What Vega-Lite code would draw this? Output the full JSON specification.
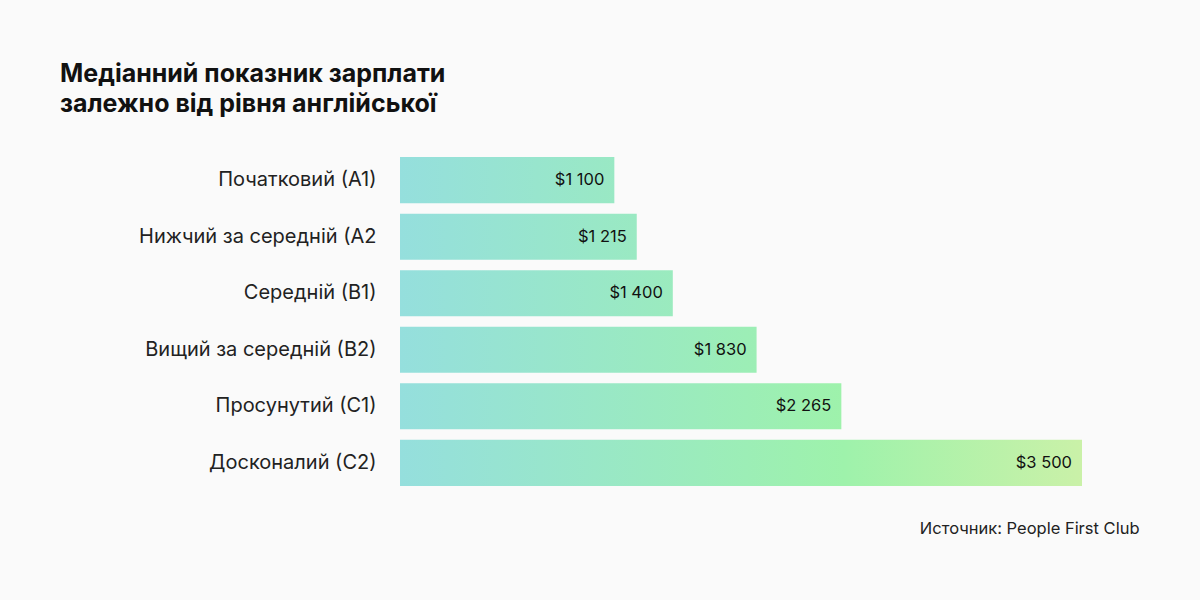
{
  "$schema": "https://vega.github.io/schema/vega-lite/v6.json",
  "autosize": "none",
  "width": 682,
  "height": 339,
  "padding": {"left": 400, "top": 152, "right": 118, "bottom": 109},
  "background": "#fafafa",
  "title": {
    "text": ["Медіанний показник зарплати", "залежно від рівня англійської"],
    "anchor": "start",
    "frame": "group",
    "dx": -340,
    "offset": 35,
    "fontSize": 25,
    "fontWeight": "bold",
    "font": "Inter",
    "color": "#111111",
    "lineHeight": 30
  },
  "data": {
    "values": [
      {"level": "Початковий (А1)", "salary": 1100},
      {"level": "Нижчий за середній (А2", "salary": 1215},
      {"level": "Середній (В1)", "salary": 1400},
      {"level": "Вищий за середній (В2)", "salary": 1830},
      {"level": "Просунутий (С1)", "salary": 2265},
      {"level": "Досконалий (С2)", "salary": 3500}
    ]
  },
  "encoding": {
    "y": {
      "field": "level",
      "type": "nominal",
      "sort": null,
      "scale": {"paddingInner": 0.185, "paddingOuter": 0.09},
      "axis": {
        "title": null,
        "domain": false,
        "ticks": false,
        "labelPadding": 24,
        "labelFontSize": 20,
        "labelFont": "Inter",
        "labelColor": "#222222",
        "labelLimit": 400
      }
    },
    "x": {
      "field": "salary",
      "type": "quantitative",
      "scale": {"domain": [0, 3500], "nice": false},
      "axis": {
        "domain": false,
        "ticks": false,
        "labels": false,
        "grid": false,
        "title": "Источник: People First Club",
        "titleFont": "Inter",
        "titleFontSize": 16.5,
        "titleFontWeight": "normal",
        "titleColor": "#222222",
        "titleAlign": "right",
        "titleAnchor": "end",
        "titleX": 739,
        "titleY": 29
      }
    }
  },
  "layer": [
    {
      "mark": {"type": "bar"},
      "encoding": {
        "color": {
          "condition": [
            {"test": "datum.salary == 1100", "value": {"gradient": "linear", "x1": 0, "y1": 0, "x2": 3.09, "y2": 0, "stops": [{"offset": 0, "color": "#95dfdd"}, {"offset": 0.65, "color": "#9ef2ab"}, {"offset": 1, "color": "#caf1a8"}]}},
            {"test": "datum.salary == 1215", "value": {"gradient": "linear", "x1": 0, "y1": 0, "x2": 2.88, "y2": 0, "stops": [{"offset": 0, "color": "#95dfdd"}, {"offset": 0.65, "color": "#9ef2ab"}, {"offset": 1, "color": "#caf1a8"}]}},
            {"test": "datum.salary == 1400", "value": {"gradient": "linear", "x1": 0, "y1": 0, "x2": 2.5, "y2": 0, "stops": [{"offset": 0, "color": "#95dfdd"}, {"offset": 0.65, "color": "#9ef2ab"}, {"offset": 1, "color": "#caf1a8"}]}},
            {"test": "datum.salary == 1830", "value": {"gradient": "linear", "x1": 0, "y1": 0, "x2": 1.913, "y2": 0, "stops": [{"offset": 0, "color": "#95dfdd"}, {"offset": 0.65, "color": "#9ef2ab"}, {"offset": 1, "color": "#caf1a8"}]}},
            {"test": "datum.salary == 2265", "value": {"gradient": "linear", "x1": 0, "y1": 0, "x2": 1.545, "y2": 0, "stops": [{"offset": 0, "color": "#95dfdd"}, {"offset": 0.65, "color": "#9ef2ab"}, {"offset": 1, "color": "#caf1a8"}]}}
          ],
          "value": {"gradient": "linear", "x1": 0, "y1": 0, "x2": 1, "y2": 0, "stops": [{"offset": 0, "color": "#95dfdd"}, {"offset": 0.65, "color": "#9ef2ab"}, {"offset": 1, "color": "#caf1a8"}]}
        }
      }
    },
    {
      "mark": {"type": "text", "align": "right", "dx": -10, "fontSize": 16.5, "font": "Inter", "color": "#111111"},
      "encoding": {
        "text": {"field": "salary", "type": "quantitative", "format": "$,d"}
      }
    }
  ],
  "config": {
    "view": {"stroke": null},
    "locale": {
      "number": {"decimal": ".", "thousands": " ", "grouping": [3], "currency": ["$", ""]}
    }
  }
}
